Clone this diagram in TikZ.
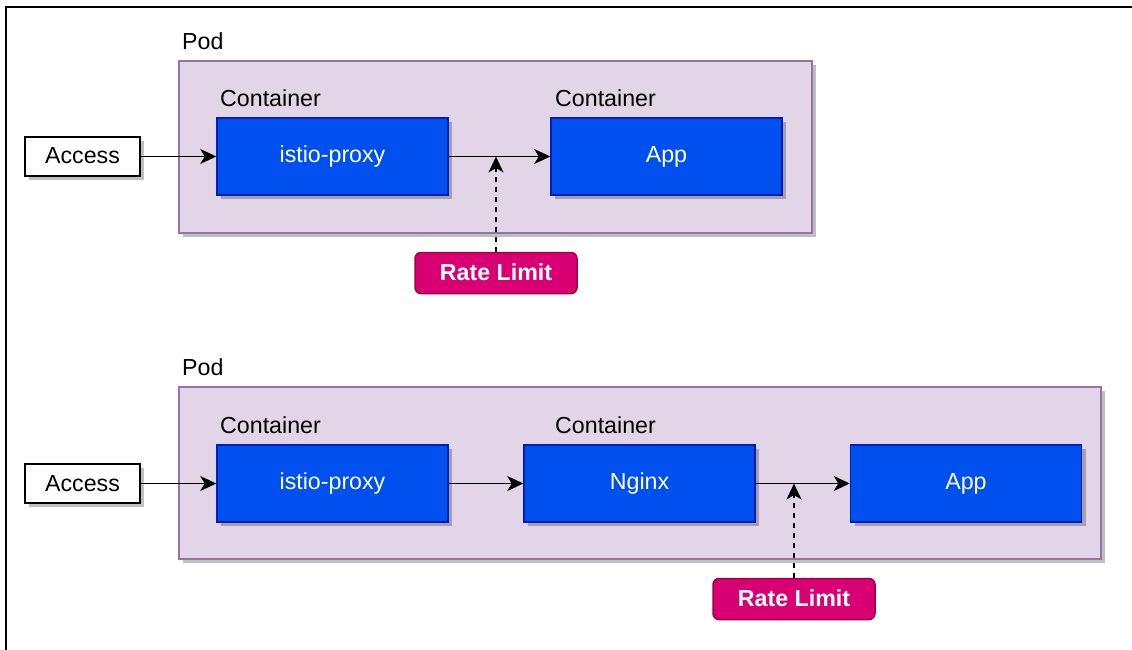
\documentclass[tikz,border=0pt]{standalone}
\usepackage{fontspec}
\setmainfont{Liberation Sans}
\usetikzlibrary{arrows.meta,shadows}
\definecolor{podfill}{HTML}{E1D5E7}
\definecolor{podline}{HTML}{9673A6}
\definecolor{boxfill}{HTML}{0050EF}
\definecolor{boxline}{HTML}{001DBC}
\definecolor{ratefill}{HTML}{D80073}
\definecolor{rateline}{HTML}{A50040}

\begin{document}
\begin{tikzpicture}[x=1pt, y=-1pt, font=\fontsize{23.2pt}{28pt}\selectfont]
  \tikzset{
    shade/.style={drop shadow={shadow xshift=4pt, shadow yshift=-4pt, fill=black, opacity=0.25}},
    pod/.style={draw=podline, fill=podfill, line width=1.5pt, shade, minimum height=172pt},
    box/.style={draw=boxline, fill=boxfill, text=white, line width=1.5pt, shade, text height=17pt, text depth=5pt, minimum width=231pt, minimum height=77pt},
    access/.style={draw, fill=white, line width=1.5pt, shade, text height=17pt, text depth=2pt, minimum width=115pt, minimum height=39pt},
    rate/.style={draw=rateline, fill=ratefill, text=white, font=\fontsize{23.2pt}{28pt}\selectfont\bfseries, line width=1.5pt, rounded corners=6pt, text height=17pt, text depth=2pt, minimum width=162pt, minimum height=41pt},
    lbl/.style={anchor=west, inner sep=0pt},
    line/.style={draw, line width=1.5pt, -{Stealth[length=16pt, width=15pt, inset=4.5pt]}},
  }
  \useasboundingbox (0,0) rectangle (1132,650);
  \draw[line width=1.5pt] (6,7) rectangle (1140,660);

  % first pod
  \node [pod, minimum width=633pt] (pod1) at (495.5,147) {};
  \node [lbl] (podlbl1) at (182,41) {Pod};
  \node [box] (istio1) at (332.5,156.5) {istio-proxy};
  \node [box, right of=istio1, node distance=334pt] (app1) {App};
  \node [access, left of=istio1, node distance=250pt] (acc1) {Access};
  \node [lbl] (ctr1) at (220,98) {Container};
  \node [lbl] (ctr2) at (555,98) {Container};
  \node [rate] (rl1) at (496,273) {Rate Limit};
  \coordinate (rl1tip) at (496,156.5);

  % second pod
  \node [pod, minimum width=922pt] (pod2) at (640,473) {};
  \node [lbl] (podlbl2) at (182,367) {Pod};
  \node [box] (istio2) at (332.5,483.5) {istio-proxy};
  \node [box, right of=istio2, node distance=307pt] (nginx) {Nginx};
  \node [box, right of=nginx, node distance=326.5pt] (app2) {App};
  \node [access, left of=istio2, node distance=250pt] (acc2) {Access};
  \node [lbl] (ctr3) at (220,425) {Container};
  \node [lbl] (ctr4) at (555,425) {Container};
  \node [rate] (rl2) at (794,599) {Rate Limit};
  \coordinate (rl2tip) at (794,483.5);

  \path [line] (acc1) -- (istio1);
  \path [line] (istio1) -- (app1);
  \path [line, dashed, dash pattern=on 5pt off 5pt] (rl1) -- (rl1tip);

  \path [line] (acc2) -- (istio2);
  \path [line] (istio2) -- (nginx);
  \path [line] (nginx) -- (app2);
  \path [line, dashed, dash pattern=on 5pt off 5pt] (rl2) -- (rl2tip);
\end{tikzpicture}
\end{document}
